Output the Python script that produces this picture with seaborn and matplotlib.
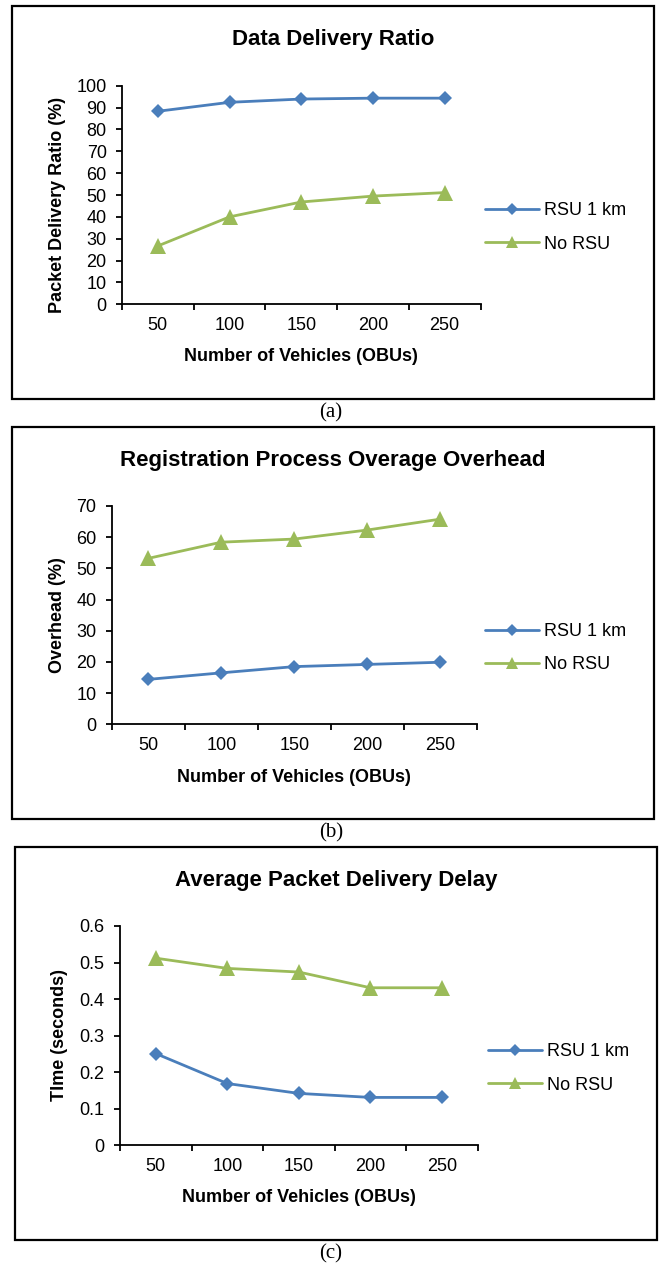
import numpy as np
import pandas as pd
import matplotlib
matplotlib.use("Agg")
import matplotlib.pyplot as plt
from matplotlib.patches import Rectangle
from matplotlib.ticker import FixedLocator, NullFormatter, FuncFormatter
import seaborn as sns

# ---- data -------------------------------------------------------------
vehicles = [50, 100, 150, 200, 250]
series_names = ["RSU 1 km", "No RSU"]

pdr_rsu = [88.3, 92.4, 93.9, 94.3, 94.3]
pdr_no_rsu = [26.7, 40.0, 46.8, 49.5, 51.1]

overhead_rsu = [14.4, 16.5, 18.5, 19.2, 19.9]
overhead_no_rsu = [53.2, 58.4, 59.4, 62.3, 65.8]

delay_rsu = [0.251, 0.169, 0.142, 0.131, 0.131]
delay_no_rsu = [0.512, 0.484, 0.474, 0.431, 0.431]

titles = ["Data Delivery Ratio",
          "Registration Process Overage Overhead",
          "Average Packet Delivery Delay"]
ylabels = ["Packet Delivery Ratio (%)", "Overhead (%)", "TIme (seconds)"]
xlabel = "Number of Vehicles (OBUs)"
captions = ["(a)", "(b)", "(c)"]
y_ticks = [list(range(0, 101, 10)), list(range(0, 71, 10)),
           [0, 0.1, 0.2, 0.3, 0.4, 0.5, 0.6]]

# ---- style ------------------------------------------------------------
sns.set_theme(style="white")
plt.rcParams["font.family"] = ["Liberation Sans", "DejaVu Sans"]
plt.rcParams["text.color"] = "black"
plt.rcParams["axes.labelcolor"] = "black"

BLUE = "#4A7EBB"
GREEN = "#9BBB59"
W, H = 662, 1268
fig = plt.figure(figsize=(W / 100, H / 100), dpi=100)
fig.patch.set_facecolor("white")


def fx(px):
    return px / W


def fy(py):
    return 1 - py / H


# pixel layout of each panel: plot area, frame, title, labels, legend, caption
panels = [
    dict(ax=(122, 85.7, 480.5, 304.3), box=(11.7, 6, 654.3, 399),
         title=(333, 39.5), ylab=(57, 204.7), xlab_y=357, leg=(485, 227.4),
         cap=(331, 413)),
    dict(ax=(111.7, 506, 477, 724.3), box=(11.7, 426.7, 654.3, 819),
         title=(333, 460.7), ylab=(57, 615.5), xlab_y=777.5, leg=(485, 648),
         cap=(331, 833)),
    dict(ax=(120, 926, 477.7, 1145.3), box=(15, 847.3, 657, 1240),
         title=(336.7, 880.7), ylab=(60, 1035), xlab_y=1197.5, leg=(488.3, 1068.4),
         cap=(331, 1254)),
]

data = [(pdr_rsu, pdr_no_rsu), (overhead_rsu, overhead_no_rsu),
        (delay_rsu, delay_no_rsu)]

for i, p in enumerate(panels):
    l, t, r, b = p["ax"]
    ax = fig.add_axes([fx(l), fy(b), (r - l) / W, (b - t) / H])
    ax.set_facecolor("none")

    rsu, no_rsu = data[i]
    df = pd.DataFrame({
        "pos": list(range(len(vehicles))) * 2,
        "value": list(rsu) + list(no_rsu),
        "series": [series_names[0]] * len(vehicles) + [series_names[1]] * len(vehicles),
    })
    for name, color, marker, ms in [(series_names[0], BLUE, "D", 7.4),
                                    (series_names[1], GREEN, "^", 11.5)]:
        sub = df[df["series"] == name]
        sns.lineplot(data=sub, x="pos", y="value", ax=ax, color=color,
                     linewidth=2.0, marker=marker, markersize=ms,
                     markeredgewidth=0, label=name, sort=False)

    # category axis with ticks between categories
    ax.set_xlim(-0.5, len(vehicles) - 0.5)
    ax.xaxis.set_major_locator(FixedLocator(np.arange(-0.5, len(vehicles), 1.0)))
    ax.xaxis.set_major_formatter(NullFormatter())
    ax.xaxis.set_minor_locator(FixedLocator(np.arange(len(vehicles))))
    ax.set_xticklabels([str(v) for v in vehicles], minor=True)
    ax.tick_params(axis="x", which="major", direction="out", length=4,
                   width=1.3, color="black", bottom=True)
    ax.tick_params(axis="x", which="minor", length=0, pad=9.5,
                   labelsize=13, labelcolor="black")

    yt = y_ticks[i]
    ax.set_ylim(yt[0], yt[-1])
    ax.yaxis.set_major_locator(FixedLocator(yt))
    ax.yaxis.set_major_formatter(FuncFormatter(lambda v, _: f"{v:g}"))
    ax.tick_params(axis="y", direction="out", length=4, width=1.3,
                   color="black", pad=7, labelsize=13, labelcolor="black",
                   left=True)

    for side in ["top", "right"]:
        ax.spines[side].set_visible(False)
    for side in ["left", "bottom"]:
        ax.spines[side].set_color("black")
        ax.spines[side].set_linewidth(1.3)

    # labels
    ax.set_xlabel(xlabel, fontsize=13, fontweight="bold")
    ax.xaxis.set_label_coords(0.5, (b - p["xlab_y"]) / (b - t))
    ax.xaxis.label.set_va("center")
    ax.set_ylabel(ylabels[i], fontsize=13, fontweight="bold")
    ax.yaxis.set_label_coords((p["ylab"][0] - l) / (r - l), (b - p["ylab"][1]) / (b - t))
    ax.yaxis.label.set_va("center")

    tx, ty = p["title"]
    ax.set_title(titles[i], fontsize=16, fontweight="bold",
                 x=(tx - l) / (r - l), y=(b - ty) / (b - t), va="center", pad=0)

    lx, ly = p["leg"]
    ax.legend(loc="center left", bbox_to_anchor=(fx(lx), fy(ly)),
              bbox_transform=fig.transFigure, frameon=False, fontsize=13,
              handlelength=3.0, handletextpad=0.25, labelspacing=0.9,
              borderpad=0, borderaxespad=0, markerscale=0.8, numpoints=1)

    # frame round the panel and its caption
    bl, bt, br, bb = p["box"]
    fig.add_artist(Rectangle((fx(bl), fy(bb)), (br - bl) / W, (bb - bt) / H,
                             transform=fig.transFigure, fill=False,
                             edgecolor="black", linewidth=1.6))
    cx, cy = p["cap"]
    fig.text(fx(cx), fy(cy), captions[i], ha="center", va="center",
             fontsize=15, family=["Liberation Serif", "DejaVu Serif"])

fig.savefig("out.png", dpi=100, facecolor="white")
